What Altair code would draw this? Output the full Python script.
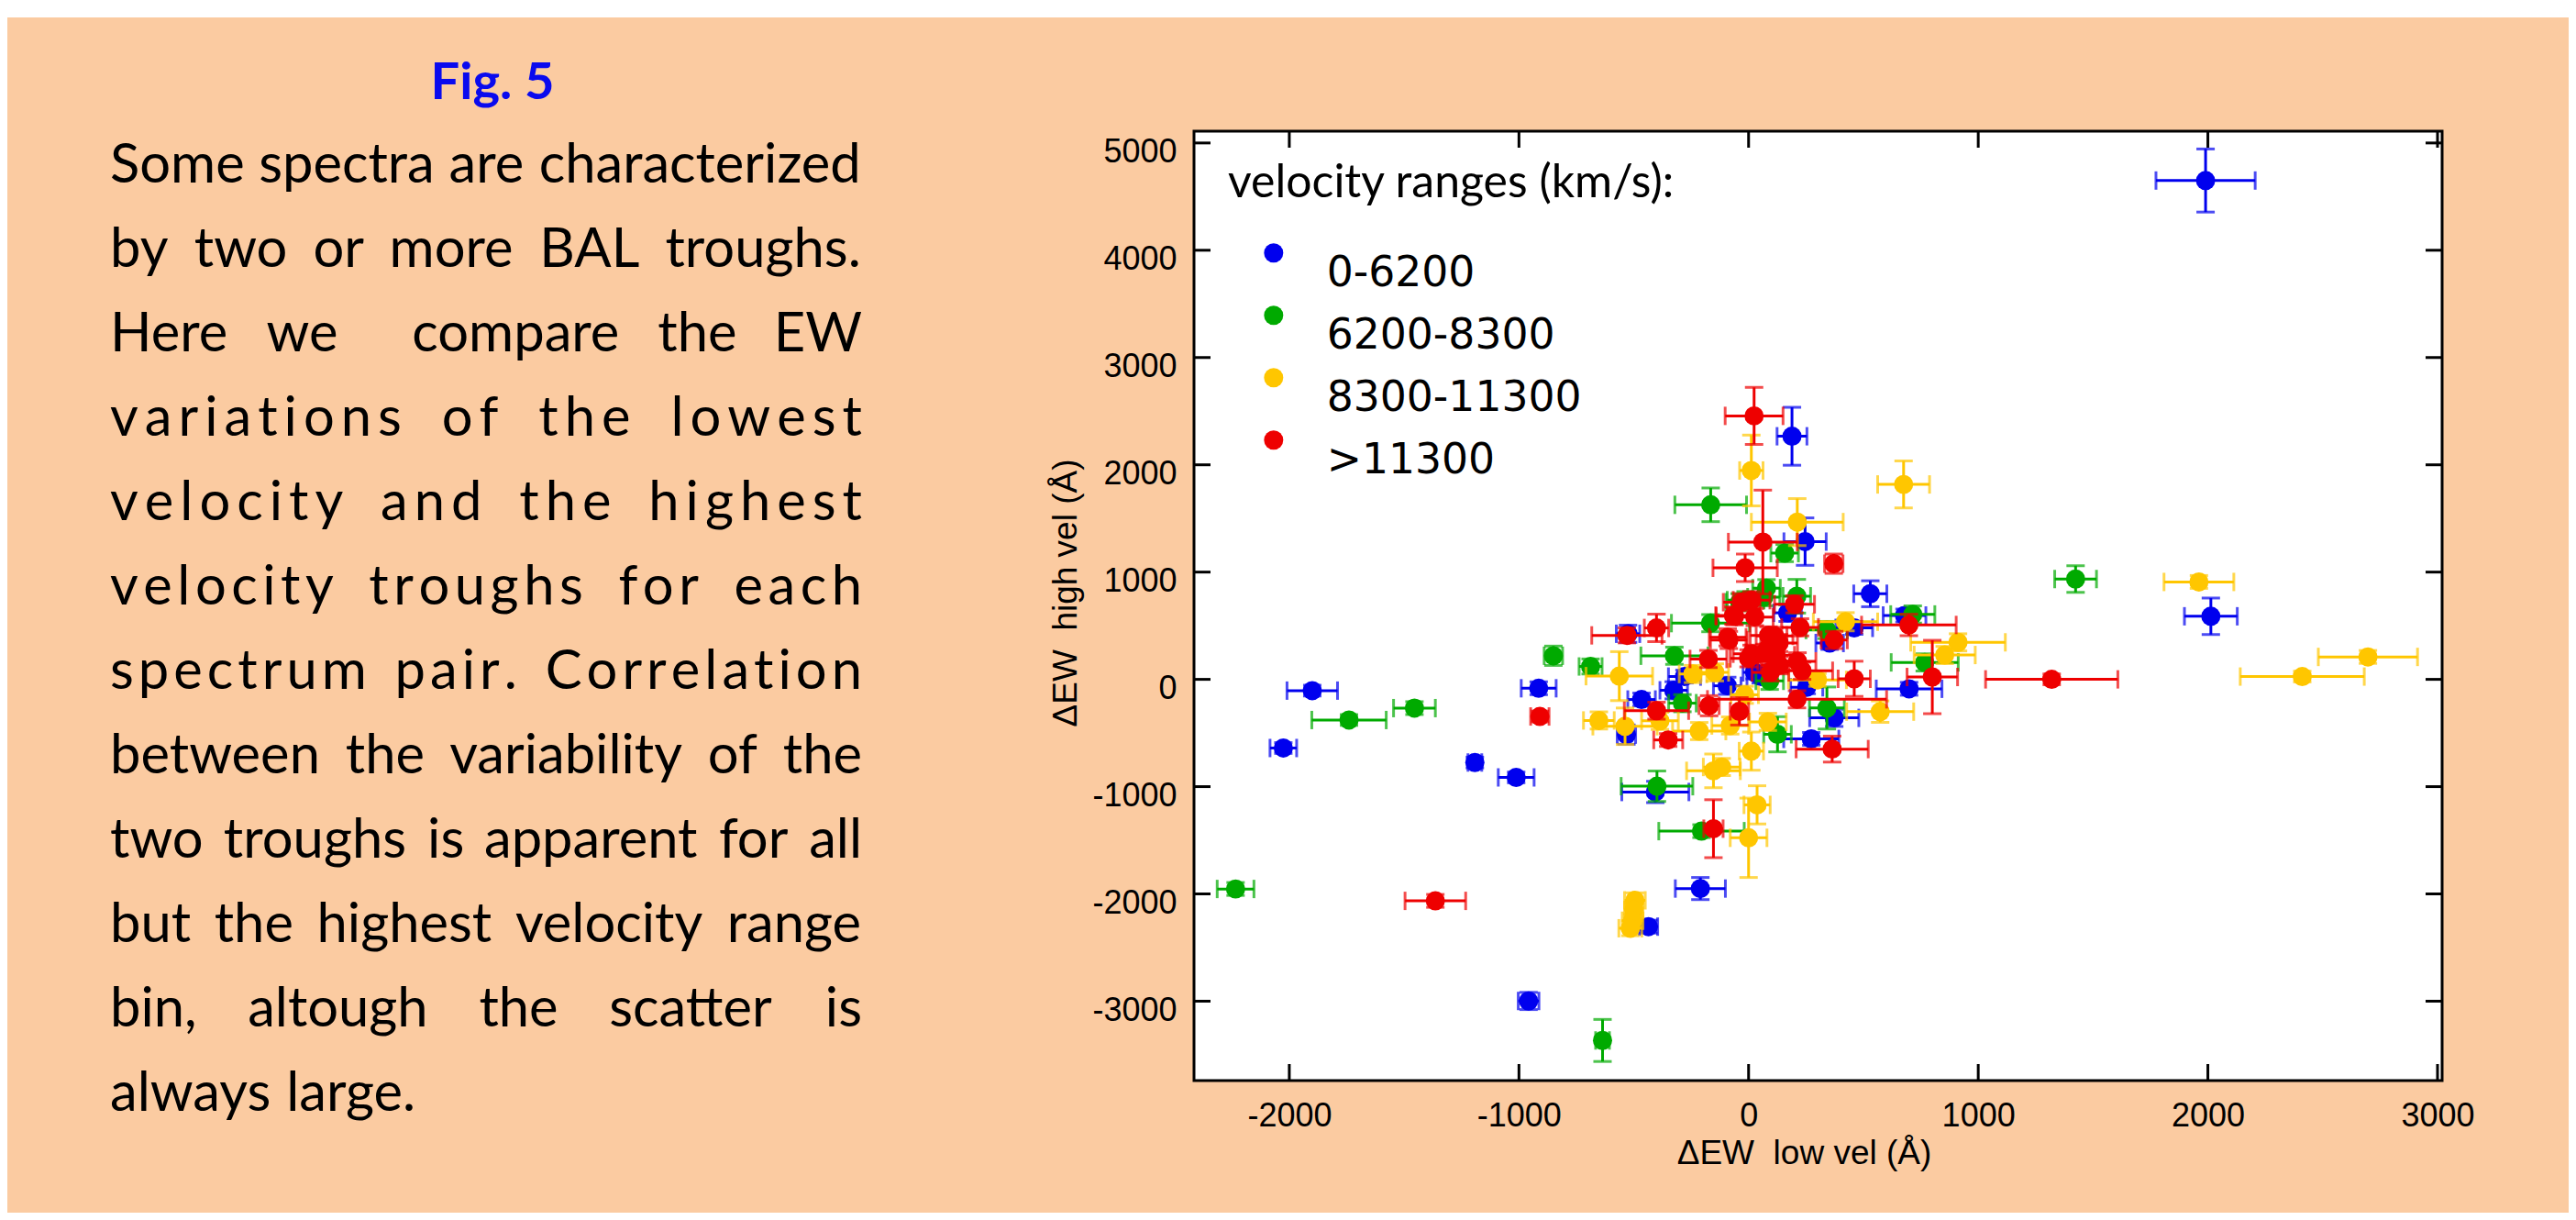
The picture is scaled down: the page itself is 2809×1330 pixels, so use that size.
import os, glob, struct, subprocess
import altair as alt
import pandas as pd

# ------------------------------------------------------------------ data
categories = ["0-6200", "6200-8300", "8300-11300", ">11300"]
colors = ["#0000EE", "#00AA00", "#FFC600", "#EE0000"]

blue_x    = [1990, 189, 2013, 530, -1900, -2026, -1192, -1012, -914, -958, -210, -436, -525, -406, -466, -326, -93, -532, -279, 53, 699, 373, 273, 253, 246, 679, 460, 353, 170, 26]
blue_y    = [4650, 2266, 588, 798, -105, -640, -775, -914, -83, -2998, -1950, -2305, 425, -1050, -188, -102, -60, -515, 26, 26, -88, -359, -555, -74, 1284, 595, 480, 339, 620, 65]
blue_xerr = [216, 65, 115, 72, 110, 58, 30, 78, 76, 45, 109, 40, 51, 146, 60, 60, 60, 40, 70, 60, 143, 107, 120, 70, 92, 93, 80, 60, 60, 50]
blue_yerr = [294, 270, 170, 121, 50, 50, 50, 50, 60, 80, 103, 60, 80, 100, 60, 80, 80, 90, 60, 60, 60, 80, 60, 60, 221, 60, 60, 60, 80, 60]

green_x    = [-2234, -1740, -1455, -850, -688, -636, -165, 1424, -399, -205, 157, 715, 341, 126, -323, -166, -13, 66, 210, 340, 767, -288, 92, -39, 78]
green_y    = [-1954, -379, -268, 220, 120, -3366, 1627, 935, -996, -1415, 1177, 605, -267, -512, 220, 524, 738, 766, 775, 460, 158, -222, -14, 719, 850]
green_xerr = [80, 162, 91, 40, 50, 30, 156, 91, 156, 186, 60, 96, 76, 60, 146, 170, 80, 70, 60, 90, 146, 60, 60, 60, 60]
green_yerr = [60, 50, 60, 90, 70, 196, 157, 124, 142, 60, 80, 80, 196, 164, 80, 80, 80, 80, 157, 80, 80, 80, 80, 80, 80]

yellow_x    = [2697, 2411, 1961, 675, 12, 212, 912, 854, 422, 573, -563, -652, -538, -215, -153, -117, 12, 37, 0, 84, -495, -500, -505, -515, -17, -147, -242, 300, -386, -80]
yellow_y    = [209, 26, 908, 1817, 1947, 1466, 345, 227, 537, -301, 30, -383, -437, -482, -853, -817, -669, -1170, -1477, -396, -2060, -2150, -2250, -2320, -144, 65, 50, -5, -387, -430]
yellow_xerr = [216, 270, 152, 113, 51, 200, 206, 133, 140, 146, 145, 67, 140, 116, 117, 80, 53, 57, 80, 80, 45, 40, 45, 50, 60, 60, 60, 126, 80, 80]
yellow_yerr = [60, 50, 60, 219, 330, 219, 80, 80, 85, 100, 228, 80, 170, 80, 157, 80, 178, 178, 370, 80, 70, 60, 60, 70, 80, 80, 80, 60, 80, 80]

red_x    = [-1364, -909, 1320, 24, 62, -15, 371, 698, 460, 800, 364, 211, 233, -153, -350, -401, -172, -40, -530, -401, -66, 13, 27, -86, 87, 13, -175, 120, 200, 224, 373, 133, 120, 0, 213, 113, 69, 134, 95, -91, -30, -61]
red_y    = [-2065, -346, 0, 2456, 1280, 1040, 1078, 507, 5, 22, -650, -186, 80, -1392, -565, -292, -246, -298, 410, 479, 595, 738, 581, 367, 410, 239, 190, 225, 700, 485, 367, 339, 170, 196, 168, 405, 248, 131, 65, 392, 719, 588]
red_xerr = [132, 40, 288, 126, 150, 140, 40, 206, 70, 110, 157, 390, 133, 42, 63, 140, 44, 40, 153, 53, 77, 80, 80, 80, 80, 80, 80, 80, 87, 80, 57, 80, 80, 80, 80, 80, 80, 80, 80, 80, 80, 80]
red_yerr = [60, 50, 50, 266, 484, 128, 90, 100, 164, 342, 121, 80, 80, 270, 60, 80, 94, 128, 70, 128, 80, 80, 80, 80, 80, 80, 80, 80, 80, 80, 80, 80, 80, 80, 80, 80, 80, 80, 80, 80, 80, 80]

x_ticks = [-2000, -1000, 0, 1000, 2000, 3000]
y_ticks = [-3000, -2000, -1000, 0, 1000, 2000, 3000, 4000, 5000]
x_domain = [-2415, 3020]
y_domain = [-3740, 5110]

fig_label = "Fig. 5"
para_lines = [
    "Some spectra are characterized",
    "by two or more BAL troughs.",
    "Here we  compare the EW",
    "variations of the lowest",
    "velocity and the highest",
    "velocity troughs for each",
    "spectrum pair. Correlation",
    "between the variability of the",
    "two troughs is apparent for all",
    "but the highest velocity range",
    "bin, altough the scatter is",
    "always large.",
]
para_modes = ["justify"] * 11 + ["left"]
para_tracking = [0, 0, 0, 7, 7, 5.5, 5, 0, 0, 0, 0, 0]   # extra letter spacing, px
legend_title = "velocity ranges (km/s):"
x_title = "\u0394EW\u00a0\u00a0low vel (\u00c5)"
y_title = "\u0394EW\u00a0\u00a0high vel (\u00c5)"

# ------------------------------------------------------------------ layout
W, H = 1361, 1035
PAD_L, PAD_T = 1294, 135
TOT_W, TOT_H = 2793, 1314
PAD_R, PAD_B = TOT_W - PAD_L - W, TOT_H - PAD_T - H
BG = "#FBCBA1"


# ------------------------------------------------------------------ font metrics
def _ttf_width_fn(path):
    data = open(path, "rb").read()
    off0 = struct.unpack(">I", data[12:16])[0] if data[:4] == b"ttcf" else 0
    num = struct.unpack(">H", data[off0 + 4:off0 + 6])[0]
    tabs = {}
    for i in range(num):
        tag, _, off, ln = struct.unpack(">4sIII", data[off0 + 12 + 16 * i:off0 + 28 + 16 * i])
        tabs[tag] = off
    head = tabs[b"head"]
    upem = struct.unpack(">H", data[head + 18:head + 20])[0]
    hhea = tabs[b"hhea"]
    nhm = struct.unpack(">H", data[hhea + 34:hhea + 36])[0]
    hm = tabs[b"hmtx"]
    adv = struct.unpack(">%dH" % (2 * nhm), data[hm:hm + 4 * nhm])[0::2]
    cm = tabs[b"cmap"]
    n = struct.unpack(">H", data[cm + 2:cm + 4])[0]
    sub = None
    for i in range(n):
        pid, eid, so = struct.unpack(">HHI", data[cm + 4 + 8 * i:cm + 12 + 8 * i])
        fmt = struct.unpack(">H", data[cm + so:cm + so + 2])[0]
        if fmt == 4 and ((pid == 3 and eid == 1) or pid == 0):
            sub = cm + so
            break
    seg2 = struct.unpack(">H", data[sub + 6:sub + 8])[0]
    seg = seg2 // 2
    ends = struct.unpack(">%dH" % seg, data[sub + 14:sub + 14 + seg2])
    starts = struct.unpack(">%dH" % seg, data[sub + 16 + seg2:sub + 16 + 2 * seg2])
    deltas = struct.unpack(">%dh" % seg, data[sub + 16 + 2 * seg2:sub + 16 + 3 * seg2])
    rpos = sub + 16 + 3 * seg2
    roffs = struct.unpack(">%dH" % seg, data[rpos:rpos + seg2])

    def gid(cp):
        for k in range(seg):
            if ends[k] >= cp:
                if starts[k] > cp:
                    return 0
                if roffs[k] == 0:
                    return (cp + deltas[k]) & 0xFFFF
                a = rpos + 2 * k + roffs[k] + 2 * (cp - starts[k])
                g = struct.unpack(">H", data[a:a + 2])[0]
                return (g + deltas[k]) & 0xFFFF if g else 0
        return 0

    cache = {}

    def w(ch):
        if ch not in cache:
            g = gid(ord(ch))
            cache[ch] = (adv[g] if g < len(adv) else adv[-1]) / upem
        return cache[ch]
    return w


def _find(names, family):
    bases = ["/usr/share/fonts", "/usr/local/share/fonts",
             os.path.expanduser("~/.fonts"), os.path.expanduser("~/.local/share/fonts")]
    for nm in names:
        for b in bases:
            for f in glob.glob(os.path.join(b, "**", nm), recursive=True):
                return f
    try:
        out = subprocess.run(["fc-match", "-f", "%{file}", family], capture_output=True,
                             text=True, timeout=5).stdout.strip()
        if out and os.path.exists(out):
            return out
    except Exception:
        pass
    return None


_FB = {c: 0.53 for c in "abcdeghknopquvxyz"}
_FB.update({"f": 0.33, "i": 0.24, "j": 0.24, "l": 0.24, "m": 0.84, "r": 0.37, "s": 0.42,
            "t": 0.35, "w": 0.78, " ": 0.19, ".": 0.25, ",": 0.25, "-": 0.36, "(": 0.33,
            ")": 0.33, ":": 0.25, "/": 0.37, ">": 0.58})


def _fallback(ch):
    if ch in _FB:
        return _FB[ch]
    if ch.isdigit():
        return 0.58
    if ch.isupper():
        return 0.65
    return 0.5


def width_fn(names, family):
    try:
        p = _find(names, family)
        if p:
            return _ttf_width_fn(p)
    except Exception:
        pass
    return _fallback


lato = width_fn(["Lato-Regular.ttf", "Lato-Reg.ttf"], "Lato:style=Regular")
lato_b = width_fn(["Lato-Bold.ttf"], "Lato:style=Bold")
dejavu = width_fn(["DejaVuSans.ttf"], "DejaVu Sans")


def tw(fn, s):
    return sum(fn(c) for c in s)


# ------------------------------------------------------------------ scales / helpers
xscale = alt.Scale(domain=x_domain, nice=False, zero=False)
yscale = alt.Scale(domain=y_domain, nice=False, zero=False)


def page_to_x(px):
    rel = px - 8 - PAD_L
    return x_domain[0] + rel / W * (x_domain[1] - x_domain[0])


def page_to_y(py):
    rel = py - 8 - PAD_T
    return y_domain[1] - rel / H * (y_domain[1] - y_domain[0])


AX = alt.Axis(title=x_title, values=x_ticks, labelExpr="'' + datum.value", ticks=False,
              domain=False, grid=False, labelFont="Liberation Sans", labelFontSize=36,
              labelColor="black", labelPadding=21, labelFlush=False, labelOverlap=False,
              titleFont="Liberation Sans", titleFontSize=37, titleFontWeight="normal",
              titleColor="black", titleX=665, titleY=79, titleBaseline="middle")
AY = alt.Axis(title=y_title, values=y_ticks, labelExpr="'' + datum.value", ticks=False,
              domain=False, grid=False, labelFont="Liberation Sans", labelFontSize=36,
              labelColor="black", labelPadding=19, labelOffset=10, labelFlush=False,
              labelOverlap=False, titleFont="Liberation Sans", titleFontSize=37,
              titleFontWeight="normal", titleColor="black", titleX=-140, titleY=503,
              titleBaseline="middle")

# ------------------------------------------------------------------ paragraph tokens
PL, PR, BASE0, LEAD = 120, 940, 199, 92
para_fs = (PR - PL) / tw(lato, para_lines[0])
rows = []
for i, (line, mode, trk) in enumerate(zip(para_lines, para_modes, para_tracking)):
    base = BASE0 + LEAD * i
    words = line.split(" ")
    wchars = [[(c, lato(c) * para_fs) for c in w_] for w_ in words]
    wwidth = [sum(cw for _, cw in wc) + trk * max(len(wc) - 1, 0) for wc in wchars]
    if mode == "justify":
        gap = (PR - PL - sum(wwidth)) / (len(words) - 1)
    else:
        gap = lato(" ") * para_fs
    xpos = PL
    for w_, wc, wd in zip(words, wchars, wwidth):
        if w_:
            if trk == 0:
                rows.append({"tx": page_to_x(xpos), "ty": page_to_y(base), "t": w_})
            else:
                cx = xpos
                for c, cw in wc:
                    rows.append({"tx": page_to_x(cx), "ty": page_to_y(base), "t": c})
                    cx += cw + trk
        xpos += wd + gap
para_df = pd.DataFrame(rows)

fig_fs = 135 / tw(lato_b, fig_label)
fig_df = pd.DataFrame({"tx": [page_to_x(537)], "ty": [page_to_y(108)], "t": [fig_label]})

leg_title_fs = 492 / tw(lato, legend_title)
leg_label_fs = 278 / tw(dejavu, "8300-11300")

LEG = alt.Legend(title=legend_title, orient="none", legendX=37, legendY=33, padding=0,
                 titleFont="Lato", titleFontSize=leg_title_fs, titleFontWeight="normal",
                 titleColor="black", titleLimit=2000, titlePadding=27,
                 labelFont="DejaVu Sans", labelFontSize=leg_label_fs, labelColor="black",
                 labelLimit=2000, labelBaseline="top", labelOffset=35, symbolOffset=27,
                 symbolSize=440, symbolType="circle", symbolStrokeWidth=0,
                 symbolOpacity=1, rowPadding=0)
cscale = alt.Scale(domain=categories, range=colors)

# ------------------------------------------------------------------ layers
layers = []

strip = alt.Chart(pd.DataFrame({"a": [0]})).mark_rect(color="white").encode(
    x=alt.value(-PAD_L), x2=alt.value(W + PAD_R), y=alt.value(-PAD_T), y2=alt.value(-PAD_T + 11))
layers.append(strip)

layers.append(alt.Chart(para_df).mark_text(align="left", baseline="alphabetic", font="Lato",
                                           fontSize=para_fs, color="black").encode(
    x=alt.X("tx:Q", scale=xscale, axis=AX), y=alt.Y("ty:Q", scale=yscale, axis=AY), text="t:N"))
layers.append(alt.Chart(fig_df).mark_text(align="center", baseline="alphabetic", font="Lato",
                                          fontWeight="bold", fontSize=fig_fs,
                                          color="#0A0AEE").encode(
    x=alt.X("tx:Q", scale=xscale, axis=AX), y=alt.Y("ty:Q", scale=yscale, axis=AY), text="t:N"))

series = [
    (blue_x, blue_y, blue_xerr, blue_yerr),
    (green_x, green_y, green_xerr, green_yerr),
    (yellow_x, yellow_y, yellow_xerr, yellow_yerr),
    (red_x, red_y, red_xerr, red_yerr),
]
for cat, col, (xs, ys, xe, ye) in zip(categories, colors, series):
    df = pd.DataFrame({"x": xs, "y": ys, "xe": xe, "ye": ye})
    df["xlo"] = df.x - df.xe
    df["xhi"] = df.x + df.xe
    df["ylo"] = df.y - df.ye
    df["yhi"] = df.y + df.ye
    df["cat"] = cat
    base = alt.Chart(df)
    layers.append(base.mark_rule(color=col, strokeWidth=3).encode(
        x=alt.X("xlo:Q", scale=xscale, axis=AX), x2="xhi:Q",
        y=alt.Y("y:Q", scale=yscale, axis=AY)))
    layers.append(base.mark_rule(color=col, strokeWidth=3).encode(
        x=alt.X("x:Q", scale=xscale, axis=AX),
        y=alt.Y("ylo:Q", scale=yscale, axis=AY), y2="yhi:Q"))
    layers.append(base.transform_fold(["xlo", "xhi"], as_=["side", "cx"]).mark_tick(
        color=col, orient="vertical", size=20, thickness=3).encode(
        x=alt.X("cx:Q", scale=xscale, axis=AX), y=alt.Y("y:Q", scale=yscale, axis=AY)))
    layers.append(base.transform_fold(["ylo", "yhi"], as_=["side", "cy"]).mark_tick(
        color=col, orient="horizontal", size=20, thickness=3).encode(
        x=alt.X("x:Q", scale=xscale, axis=AX), y=alt.Y("cy:Q", scale=yscale, axis=AY)))
    layers.append(base.mark_point(filled=True, shape="circle", size=440, opacity=1).encode(
        x=alt.X("x:Q", scale=xscale, axis=AX), y=alt.Y("y:Q", scale=yscale, axis=AY),
        color=alt.Color("cat:N", scale=cscale, legend=LEG)))

# inward ticks on all four sides
xt = alt.Chart(pd.DataFrame({"v": x_ticks}))
yt = alt.Chart(pd.DataFrame({"v": y_ticks}))
TL = 18
layers.append(xt.mark_rule(color="black", strokeWidth=3).encode(
    x=alt.X("v:Q", scale=xscale, axis=AX), y=alt.value(H), y2=alt.value(H - TL)))
layers.append(xt.mark_rule(color="black", strokeWidth=3).encode(
    x=alt.X("v:Q", scale=xscale, axis=AX), y=alt.value(0), y2=alt.value(TL)))
layers.append(yt.mark_rule(color="black", strokeWidth=3).encode(
    y=alt.Y("v:Q", scale=yscale, axis=AY), x=alt.value(0), x2=alt.value(TL)))
layers.append(yt.mark_rule(color="black", strokeWidth=3).encode(
    y=alt.Y("v:Q", scale=yscale, axis=AY), x=alt.value(W), x2=alt.value(W - TL)))

chart = alt.layer(*layers).properties(
    width=W, height=H,
    padding={"left": PAD_L, "top": PAD_T, "right": PAD_R, "bottom": PAD_B},
    autosize=alt.AutoSizeParams(type="none"),
    background=BG,
).configure_view(fill="white", stroke="black", strokeWidth=3)

chart.save("out.html", embed_options={"renderer": "svg", "actions": False})
